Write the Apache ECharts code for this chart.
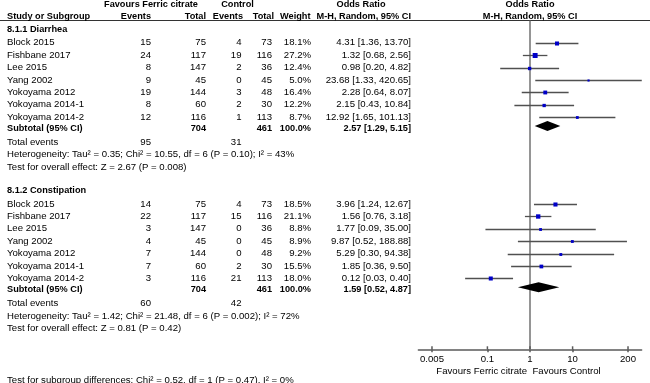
<!DOCTYPE html>
<html>
<head>
<meta charset="utf-8">
<script src="https://cdn.jsdelivr.net/npm/echarts@6/dist/echarts.min.js"></script>
<style>
  html, body { margin: 0; padding: 0; background: #fff; }
  #forest { width: 650px; height: 383px; }
</style>
</head>
<body>
<div id="forest"></div>
<script>
// study names (same for both subgroups)
const studies = ['Block 2015', 'Fishbane 2017', 'Lee 2015', 'Yang 2002', 'Yokoyama 2012', 'Yokoyama 2014-1', 'Yokoyama 2014-2'];

// 8.1.1 Diarrhea
const diarEventsFc = [15, 24, 8, 9, 19, 8, 12];
const diarTotalFc = [75, 117, 147, 45, 144, 60, 116];
const diarEventsCtl = [4, 19, 2, 0, 3, 2, 1];
const diarTotalCtl = [73, 116, 36, 45, 48, 30, 113];
const diarWeight = [18.1, 27.2, 12.4, 5.0, 16.4, 12.2, 8.7];
const diarOr = [4.31, 1.32, 0.98, 23.68, 2.28, 2.15, 12.92];
const diarLo = [1.36, 0.68, 0.20, 1.33, 0.64, 0.43, 1.65];
const diarHi = [13.70, 2.56, 4.82, 420.65, 8.07, 10.84, 101.13];
const diarSub = [2.57, 1.29, 5.15]; // estimate, lower, upper
const diarTotals = [704, 461];
const diarTotalEvents = [95, 31];
const diarHet = 'Heterogeneity: Tau\u00b2 = 0.35; Chi\u00b2 = 10.55, df = 6 (P = 0.10); I\u00b2 = 43%';
const diarTest = 'Test for overall effect: Z = 2.67 (P = 0.008)';

// 8.1.2 Constipation
const consEventsFc = [14, 22, 3, 4, 7, 7, 3];
const consTotalFc = [75, 117, 147, 45, 144, 60, 116];
const consEventsCtl = [4, 15, 0, 0, 0, 2, 21];
const consTotalCtl = [73, 116, 36, 45, 48, 30, 113];
const consWeight = [18.5, 21.1, 8.8, 8.9, 9.2, 15.5, 18.0];
const consOr = [3.96, 1.56, 1.77, 9.87, 5.29, 1.85, 0.12];
const consLo = [1.24, 0.76, 0.09, 0.52, 0.30, 0.36, 0.03];
const consHi = [12.67, 3.18, 35.00, 188.88, 94.38, 9.50, 0.40];
const consSub = [1.59, 0.52, 4.87];
const consTotals = [704, 461];
const consTotalEvents = [60, 42];
const consHet = 'Heterogeneity: Tau\u00b2 = 1.42; Chi\u00b2 = 21.48, df = 6 (P = 0.002); I\u00b2 = 72%';
const consTest = 'Test for overall effect: Z = 0.81 (P = 0.42)';

const subgroupTest = 'Test for subgroup differences: Chi\u00b2 = 0.52, df = 1 (P = 0.47), I\u00b2 = 0%';

// x axis ticks
const tickValues = [0.005, 0.1, 1, 10, 200];
const tickLabels = ['0.005', '0.1', '1', '10', '200'];

// ---- layout ----
const ROW0 = 42.7, PITCH = 12.4;       // pixel y of first study row, row height
const GRID_TOP = 20.7, AXIS_Y = 349.3;
const rowY = r => ROW0 + r * PITCH;
const yMin = (GRID_TOP - ROW0) / PITCH;
const yMax = (AXIS_Y - ROW0) / PITCH;
const FONT = 'Arial, "Liberation Sans", sans-serif';
const NORMAL = '9.6px ' + FONT;
const BOLD = 'bold 9.2px ' + FONT;
const INK = '#000';

const groups = [
  { title: '8.1.1 Diarrhea', start: 0, evFc: diarEventsFc, totFc: diarTotalFc, evCtl: diarEventsCtl, totCtl: diarTotalCtl,
    w: diarWeight, or: diarOr, lo: diarLo, hi: diarHi, sub: diarSub, totals: diarTotals, totEv: diarTotalEvents, het: diarHet, test: diarTest },
  { title: '8.1.2 Constipation', start: 13, evFc: consEventsFc, totFc: consTotalFc, evCtl: consEventsCtl, totCtl: consTotalCtl,
    w: consWeight, or: consOr, lo: consLo, hi: consHi, sub: consSub, totals: consTotals, totEv: consTotalEvents, het: consHet, test: consTest }
];

const texts = [];
function txt(s, x, r, align, font, yPix) {
  const y = yPix !== undefined ? yPix : rowY(r);
  texts.push({
    type: 'text', x: x, y: y, silent: true,
    style: { text: String(s), font: font || NORMAL, fill: INK, align: align || 'left', verticalAlign: 'middle',
      textAlign: align || 'left', textVerticalAlign: 'middle' }
  });
}
const ciText = (e, l, h) => e.toFixed(2) + ' [' + l.toFixed(2) + ', ' + h.toFixed(2) + ']';

// header
txt('Favours Ferric citrate', 151, 0, 'center', BOLD, 4.5);
txt('Control', 237.5, 0, 'center', BOLD, 4.5);
txt('Odds Ratio', 361, 0, 'center', BOLD, 4.5);
txt('Odds Ratio', 530, 0, 'center', BOLD, 4.5);
txt('Study or Subgroup', 7, 0, 'left', BOLD, 16);
txt('Events', 151, 0, 'right', BOLD, 16);
txt('Total', 206, 0, 'right', BOLD, 16);
txt('Events', 243, 0, 'right', BOLD, 16);
txt('Total', 274, 0, 'right', BOLD, 16);
txt('Weight', 310.5, 0, 'right', BOLD, 16);
txt('M-H, Random, 95% CI', 411, 0, 'right', BOLD, 16);
txt('M-H, Random, 95% CI', 530, 0, 'center', BOLD, 16);

const studyData = [];
const diamondData = [];
groups.forEach(g => {
  const s = g.start;
  txt(g.title, 7, s - 1.1, 'left', BOLD);
  studies.forEach((name, i) => {
    const r = s + i;
    txt(name, 7, r);
    txt(g.evFc[i], 151, r, 'right');
    txt(g.totFc[i], 206, r, 'right');
    txt(g.evCtl[i], 241.5, r, 'right');
    txt(g.totCtl[i], 272, r, 'right');
    txt(g.w[i].toFixed(1) + '%', 311, r, 'right');
    txt(ciText(g.or[i], g.lo[i], g.hi[i]), 411, r, 'right');
    studyData.push([Math.log10(g.or[i]), Math.log10(g.lo[i]), Math.log10(g.hi[i]), r, g.w[i]]);
  });
  const rs = s + 6.88;
  txt('Subtotal (95% CI)', 7, rs, 'left', BOLD);
  txt(g.totals[0], 206, rs, 'right', BOLD);
  txt(g.totals[1], 272, rs, 'right', BOLD);
  txt('100.0%', 311, rs, 'right', BOLD);
  txt(ciText(g.sub[0], g.sub[1], g.sub[2]), 411, rs, 'right', BOLD);
  diamondData.push([Math.log10(g.sub[0]), Math.log10(g.sub[1]), Math.log10(g.sub[2]), s + 6.72]);
  txt('Total events', 7, s + 8);
  txt(g.totEv[0], 151, s + 8, 'right');
  txt(g.totEv[1], 241.5, s + 8, 'right');
  txt(g.het, 7, s + 9.03);
  txt(g.test, 7, s + 10.02);
});
txt('Favours Ferric citrate', 527, 0, 'right', NORMAL, 371);
txt('Favours Control', 532.5, 0, 'left', NORMAL, 371);
txt(subgroupTest, 7, 0, 'left', NORMAL, 380);

const tickLogs = tickValues.map(v => Math.log10(v));

const chart = echarts.init(document.getElementById('forest'));
const option = {
  animation: false,
  grid: { left: 418.4, right: 8.4, top: GRID_TOP, bottom: 383 - AXIS_Y },
  xAxis: {
    type: 'value',
    min: -2.62,
    max: 2.62,
    axisLine: { onZero: false, lineStyle: { color: '#5a5a5a', width: 1.5 } },
    axisTick: { customValues: tickLogs, length: 3, lineStyle: { color: '#5a5a5a', width: 1.5 } },
    axisLabel: {
      customValues: tickLogs,
      margin: 5,
      color: INK,
      fontSize: 9.6,
      fontFamily: FONT,
      formatter: v => {
        const i = tickLogs.findIndex(t => Math.abs(t - v) < 1e-6);
        return i >= 0 ? tickLabels[i] : '';
      }
    },
    splitLine: { show: false }
  },
  yAxis: { type: 'value', inverse: true, min: yMin, max: yMax, show: false },
  graphic: [
    { type: 'line', silent: true, shape: { x1: 0, y1: 20.5, x2: 650, y2: 20.5 }, style: { stroke: '#333', lineWidth: 1 } },
    ...texts
  ],
  series: [
    {
      // line of no effect
      type: 'line',
      data: [[0, yMin], [0, yMax]],
      symbol: 'none',
      lineStyle: { color: '#8a8a8a', width: 1.8 },
      silent: true,
      z: 1
    },
    {
      // upper half of the tick marks (they cross the axis line)
      type: 'custom',
      data: tickLogs.map(t => [t, yMax]),
      silent: true,
      renderItem: (params, api) => {
        const p = api.coord([api.value(0), api.value(1)]);
        return { type: 'line', shape: { x1: p[0], y1: p[1] - 3, x2: p[0], y2: p[1] }, style: { stroke: '#5a5a5a', lineWidth: 1.5 } };
      }
    },
    {
      type: 'custom',
      data: studyData,
      encode: { x: [0, 1, 2], y: 3 },
      z: 3,
      renderItem: (params, api) => {
        const r = api.value(3);
        const p0 = api.coord([api.value(1), r]);
        const p1 = api.coord([api.value(2), r]);
        const pc = api.coord([api.value(0), r]);
        const y = Math.round(p0[1]) + 0.5;
        const s = Math.sqrt(api.value(4)) * 0.95;
        return {
          type: 'group',
          children: [
            { type: 'line', shape: { x1: p0[0], y1: y, x2: p1[0], y2: y }, style: { stroke: '#505050', lineWidth: 1.3 } },
            { type: 'rect', shape: { x: pc[0] - s / 2, y: y - s / 2, width: s, height: s }, style: { fill: '#0000c8' } }
          ]
        };
      }
    },
    {
      type: 'custom',
      data: diamondData,
      encode: { x: [0, 1, 2], y: 3 },
      z: 3,
      renderItem: (params, api) => {
        const r = api.value(3);
        const pl = api.coord([api.value(1), r]);
        const pr = api.coord([api.value(2), r]);
        const pc = api.coord([api.value(0), r]);
        return {
          type: 'polygon',
          shape: { points: [[pl[0], pc[1]], [pc[0], pc[1] - 5], [pr[0], pc[1]], [pc[0], pc[1] + 5]] },
          style: { fill: '#000' }
        };
      }
    }
  ]
};
chart.setOption(option);
</script>
</body>
</html>
